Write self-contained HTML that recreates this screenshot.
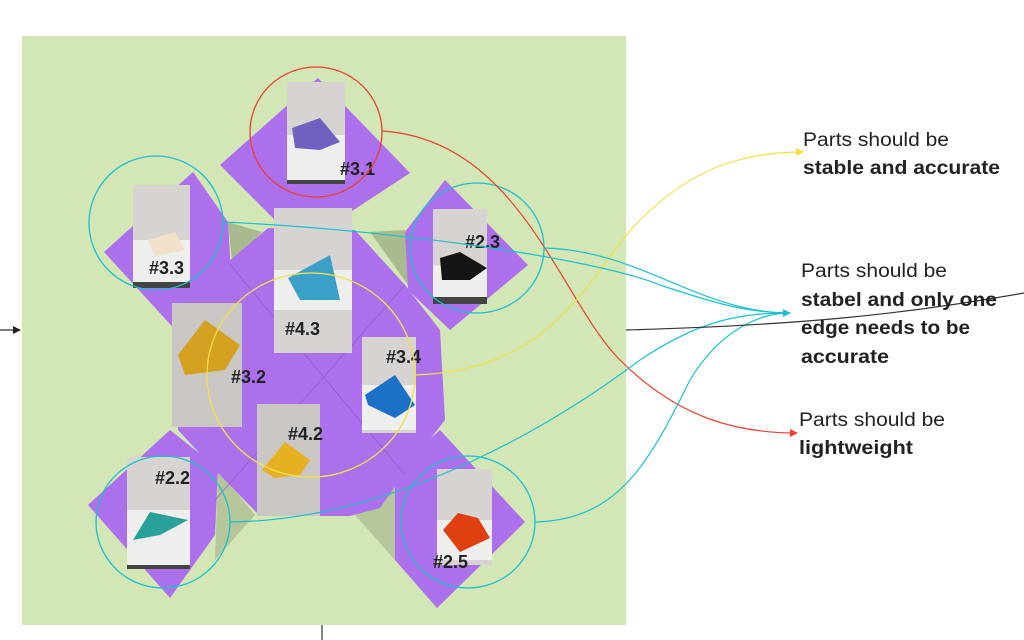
<!DOCTYPE html>
<html><head><meta charset="utf-8"><style>
html,body{margin:0;padding:0;background:#fff;width:1024px;height:640px;overflow:hidden}
svg{display:block}
</style></head><body>
<svg width="1024" height="640" viewBox="0 0 1024 640" xmlns="http://www.w3.org/2000/svg" font-family="Liberation Sans, sans-serif">
<defs>
<marker id="ab" markerWidth="8" markerHeight="8" refX="7" refY="4" orient="auto" markerUnits="userSpaceOnUse"><path d="M0,0 L8,4 L0,8 Z" fill="#222"/></marker>
<marker id="ay" markerWidth="8" markerHeight="8" refX="7" refY="4" orient="auto" markerUnits="userSpaceOnUse"><path d="M0,0 L8,4 L0,8 Z" fill="#f0e040"/></marker>
<marker id="ac" markerWidth="8" markerHeight="8" refX="7" refY="4" orient="auto" markerUnits="userSpaceOnUse"><path d="M0,0 L8,4 L0,8 Z" fill="#1cc0d0"/></marker>
<marker id="ar" markerWidth="8" markerHeight="8" refX="7" refY="4" orient="auto" markerUnits="userSpaceOnUse"><path d="M0,0 L8,4 L0,8 Z" fill="#f04030"/></marker>
</defs>
<rect x="22" y="36" width="604" height="589" fill="#d3e6b6"/>
<!-- shadows -->
<polygon points="228,222 262,232 232,262" fill="#a9ba8e"/>
<polygon points="370,232 405,230 408,285" fill="#a9ba8e"/>
<polygon points="218,470 255,515 215,560" fill="#b4c69a"/>
<polygon points="395,470 355,515 395,560" fill="#b4c69a"/>
<!-- purple shapes -->
<g fill="#ad70ec">
<polygon points="318,78 410,173 300,245 220,165"/>
<polygon points="193,172 228,222 232,290 180,335 104,252"/>
<polygon points="445,180 528,265 450,330 408,290 405,232"/>
<polygon points="228,262 268,228 355,230 405,285 440,330 445,420 410,465 380,508 350,516 260,516 215,470 178,430 172,320"/>
<polygon points="170,430 218,468 215,535 170,598 88,505"/>
<polygon points="440,430 525,522 437,608 395,560 395,470"/>
</g>
<g stroke="#8a52c8" stroke-width="1" opacity="0.6">
<line x1="228" y1="262" x2="405" y2="475"/><line x1="405" y1="285" x2="215" y2="500"/>
</g>
<!-- photos -->
<g fill="#d6d3d0">
<rect x="287" y="82" width="58" height="102"/>
<rect x="133" y="185" width="57" height="103"/>
<rect x="274" y="208" width="78" height="145"/>
<rect x="433" y="209" width="54" height="95"/>
<rect x="172" y="303" width="70" height="124" fill="#c9c6c3"/>
<rect x="362" y="337" width="54" height="96"/>
<rect x="257" y="404" width="63" height="112" fill="#c9c6c3"/>
<rect x="127" y="457" width="63" height="112"/>
<rect x="437" y="469" width="55" height="96"/>
</g>
<g fill="#eeeeec">
<rect x="287" y="135" width="58" height="45"/><rect x="133" y="240" width="57" height="42"/>
<rect x="274" y="270" width="78" height="40"/><rect x="433" y="265" width="54" height="32"/>
<rect x="362" y="385" width="54" height="45"/><rect x="127" y="510" width="63" height="55"/>
<rect x="437" y="520" width="55" height="40"/>
</g>
<g fill="#444"><rect x="287" y="180" width="58" height="4"/><rect x="133" y="282" width="57" height="6"/><rect x="433" y="297" width="54" height="7"/><rect x="127" y="565" width="63" height="4"/></g>
<polygon points="292,128 320,118 340,142 320,150 295,148" fill="#7060c0"/>
<polygon points="148,240 175,232 185,250 155,256" fill="#efe2c8"/>
<polygon points="288,278 330,255 340,300 300,300" fill="#3aa0c8"/>
<polygon points="440,258 460,252 487,268 470,280 442,280" fill="#151515"/>
<polygon points="178,355 205,320 240,345 225,370 185,375" fill="#d4a020"/>
<polygon points="365,395 395,375 415,405 395,418 368,405" fill="#1c70c8"/>
<polygon points="262,470 285,442 310,460 300,475 275,478" fill="#e6b020"/>
<polygon points="133,540 150,512 188,520 160,535" fill="#2aa09a"/>
<polygon points="443,530 458,513 478,518 490,538 460,552" fill="#e04010"/>
<!-- labels -->
<g font-weight="bold" font-size="18" fill="#222">
<text x="340" y="175">#3.1</text><text x="149" y="274">#3.3</text><text x="285" y="335">#4.3</text>
<text x="465" y="248">#2.3</text><text x="231" y="383">#3.2</text><text x="386" y="363">#3.4</text>
<text x="288" y="440">#4.2</text><text x="155" y="484">#2.2</text><text x="433" y="568">#2.5</text>
</g>
<!-- circles -->
<g fill="none" stroke-width="1.3">
<ellipse cx="316" cy="132" rx="66" ry="65" stroke="#e84030"/>
<ellipse cx="156" cy="223" rx="67" ry="67" stroke="#1cc0cc"/>
<ellipse cx="477" cy="248" rx="67" ry="65" stroke="#1cc0cc"/>
<ellipse cx="311" cy="375" rx="104" ry="102" stroke="#f0e050"/>
<ellipse cx="163" cy="522" rx="67" ry="66" stroke="#1cc0cc"/>
<ellipse cx="468" cy="522" rx="67" ry="66" stroke="#1cc0cc"/>
</g>
<!-- connectors -->
<g fill="none" stroke-width="1.2">
<path d="M382,131 C520,140 560,300 620,360 C680,420 740,433 797,433" stroke="#e84030" marker-end="url(#ar)"/>
<path d="M415,375 C560,370 590,270 640,220 C690,170 740,152 803,152" stroke="#f0e050" marker-end="url(#ay)"/>
<path d="M223,222 C400,230 600,260 660,285 C720,305 750,313 790,313" stroke="#1cc0cc" marker-end="url(#ac)"/>
<path d="M544,248 C640,250 700,313 790,313" stroke="#1cc0cc"/>
<path d="M230,522 C400,520 560,420 640,360 C700,320 740,313 790,313" stroke="#1cc0cc"/>
<path d="M535,522 C620,520 650,460 690,380 C720,330 760,313 790,313" stroke="#1cc0cc"/>
<path d="M626,330 C800,325 900,315 1024,293" stroke="#333"/>
<line x1="0" y1="330" x2="20" y2="330" stroke="#333" marker-end="url(#ab)"/>
<line x1="322" y1="625" x2="322" y2="640" stroke="#333"/>
</g>
<!-- text -->
<g font-size="19" fill="#222" lengthAdjust="spacingAndGlyphs">
<text x="803" y="146" textLength="146" lengthAdjust="spacingAndGlyphs">Parts should be</text>
<text x="803" y="174" font-weight="bold" textLength="197" lengthAdjust="spacingAndGlyphs">stable and accurate</text>
<text x="801" y="277" textLength="146" lengthAdjust="spacingAndGlyphs">Parts should be</text>
<text x="801" y="306" font-weight="bold" textLength="196" lengthAdjust="spacingAndGlyphs">stabel and only one</text>
<text x="801" y="334" font-weight="bold" textLength="169" lengthAdjust="spacingAndGlyphs">edge needs to be</text>
<text x="801" y="363" font-weight="bold" textLength="88" lengthAdjust="spacingAndGlyphs">accurate</text>
<text x="799" y="426" textLength="146" lengthAdjust="spacingAndGlyphs">Parts should be</text>
<text x="799" y="454" font-weight="bold" textLength="114" lengthAdjust="spacingAndGlyphs">lightweight</text>
</g>
</svg>
</body></html>
